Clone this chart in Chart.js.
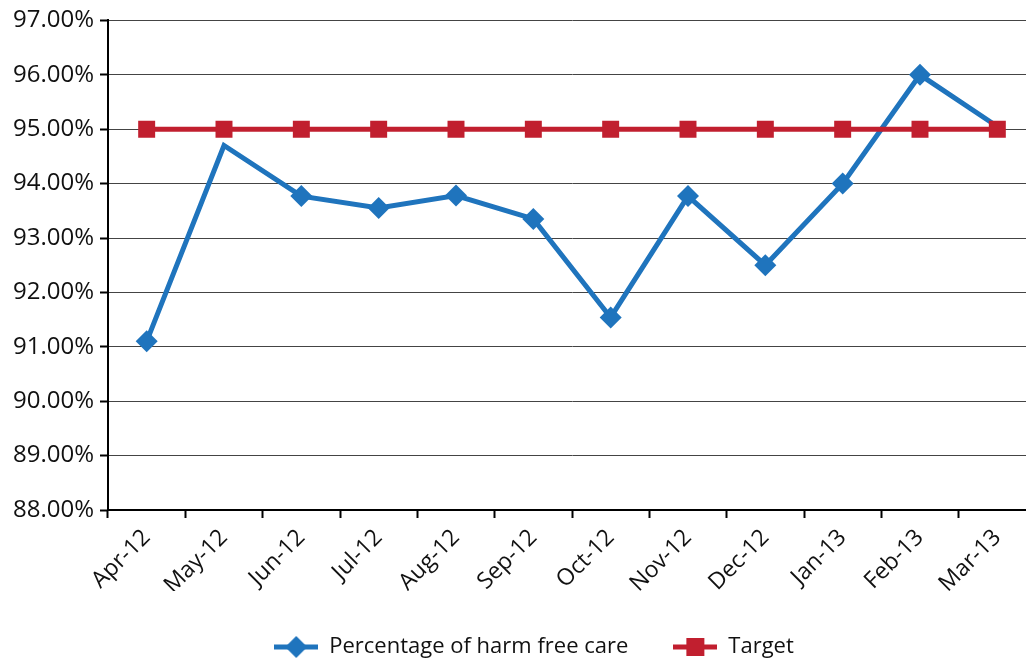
<!DOCTYPE html>
<html>
<head>
<meta charset="utf-8">
<script src="https://cdn.jsdelivr.net/npm/chart.js@4.4.1/dist/chart.umd.min.js"></script>
<style>
  html, body { margin: 0; padding: 0; background: #fff; overflow: hidden; }
  #wrap { position: relative; width: 1064px; height: 668px; }
</style>
</head>
<body>
<div id="wrap"><canvas id="harmChart"></canvas></div>
<script>
  "use strict";

  var months = ["Apr-12", "May-12", "Jun-12", "Jul-12", "Aug-12", "Sep-12", "Oct-12", "Nov-12", "Dec-12", "Jan-13", "Feb-13", "Mar-13"];
  var harmFree = [91.1, 94.7, 93.77, 93.55, 93.78, 93.35, 91.54, 93.77, 92.5, 94.0, 96.0, 95.05];
  var target = [95, 95, 95, 95, 95, 95, 95, 95, 95, 95, 95, 95];
  var yMin = 88, yMax = 97, yStep = 1;

  var BLUE = "#1f74bd", RED = "#c11f2f";
  var FONT = "'Open Sans', 'Noto Sans', sans-serif";

  // little line-with-marker swatch for the legend
  function swatch(color, shape) {
    var c = document.createElement("canvas");
    c.width = 44; c.height = 24;
    var g = c.getContext("2d");
    g.strokeStyle = color; g.lineWidth = 5;
    g.beginPath(); g.moveTo(0, 12); g.lineTo(44, 12); g.stroke();
    g.fillStyle = color;
    if (shape === "diamond") {
      g.beginPath(); g.moveTo(22, 1); g.lineTo(33, 12); g.lineTo(22, 23); g.lineTo(11, 12); g.closePath(); g.fill();
    } else {
      g.fillRect(13, 3, 18, 18);
    }
    return c;
  }

  var swatches = [swatch(BLUE, "diamond"), swatch(RED, "square")];

  // push the legend row a bit to the right of the plot centre
  var legendNudge = {
    id: "legendNudge",
    afterLayout: function (chart) {
      if (!chart.legend) return;
      chart.legend.left += 16;
      chart.legend.right += 16;
    }
  };

  new Chart(document.getElementById("harmChart"), {
    type: "line",
    data: {
      labels: months,
      datasets: [
        { label: "Percentage of harm free care", data: harmFree, borderColor: BLUE, backgroundColor: BLUE,
          borderWidth: 5, pointStyle: "rectRot", pointRadius: [11, 0, 11, 11, 11, 11, 11, 11, 11, 11, 11, 0],
          pointBorderWidth: 0, tension: 0, order: 2 },
        { label: "Target", data: target, borderColor: RED, backgroundColor: RED,
          borderWidth: 5, pointStyle: "rect", pointRadius: 12, pointBorderWidth: 0, tension: 0, order: 1 }
      ]
    },
    plugins: [legendNudge],
    options: {
      responsive: true,
      maintainAspectRatio: false,
      animation: false,
      layout: { padding: { top: 10, right: 28, left: 0, bottom: 0 } },
      plugins: {
        tooltip: { enabled: false },
        legend: {
          position: "bottom",
          labels: {
            color: "#111",
            font: { family: FONT, size: 22 },
            usePointStyle: true,
            pointStyleWidth: 44,
            padding: 45,
            generateLabels: function (chart) {
              return chart.data.datasets.map(function (ds, i) {
                return { text: ds.label, pointStyle: swatches[i], fillStyle: ds.borderColor,
                  strokeStyle: ds.borderColor, lineWidth: 0, hidden: false, datasetIndex: i, fontColor: "#111" };
              });
            }
          }
        }
      },
      scales: {
        x: {
          offset: true,
          grid: { offset: true, drawOnChartArea: false, drawTicks: true, tickLength: 8, tickColor: "#000", tickWidth: 2 },
          border: { color: "#000", width: 2 },
          ticks: { color: "#111", font: { family: FONT, size: 23 }, minRotation: 45, maxRotation: 45, autoSkip: false, padding: 6 },
          afterFit: function (s) { s.height = 81; }
        },
        y: {
          min: yMin, max: yMax,
          grid: { color: "#444", lineWidth: 1, tickLength: 8, tickColor: "#000", tickWidth: 2 },
          border: { color: "#000", width: 2 },
          ticks: { stepSize: yStep, color: "#111", font: { family: FONT, size: 24 }, padding: 6,
            callback: function (v) { return v.toFixed(2) + "%"; } },
          afterFit: function (s) { s.width = 108; }
        }
      }
    }
  });
</script>
</body>
</html>
